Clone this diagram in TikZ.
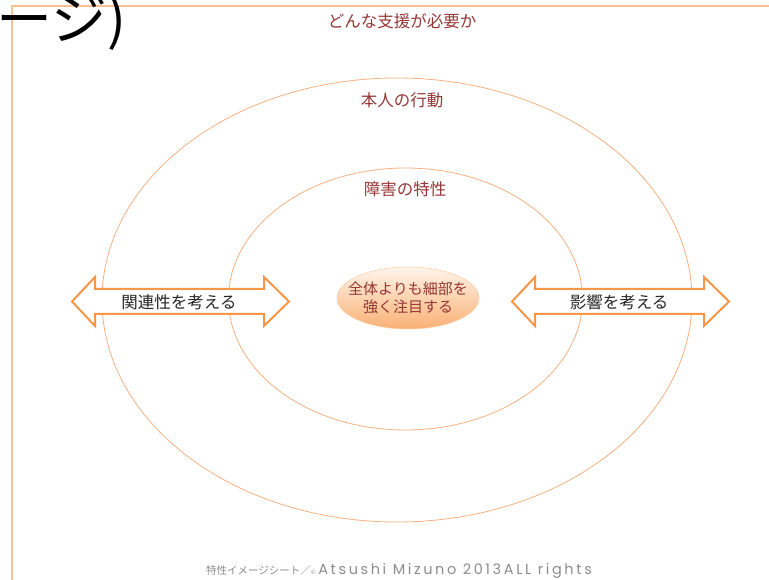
\documentclass[tikz,border=0pt]{standalone}
\usepackage{fontspec}
\setmainfont{Noto Sans CJK JP}
\newfontfamily\latinwide[LetterSpace=18]{Poppins}
\usetikzlibrary{shadings,shapes.geometric}
\definecolor{frameor}{HTML}{FAC090}
\definecolor{ringor}{HTML}{F4B183}
\definecolor{arrowor}{HTML}{F79646}
\definecolor{redbrown}{HTML}{953735}
\definecolor{grayt}{HTML}{8C8C8C}
\tikzset{
  ring/.style={draw=ringor, line width=0.8pt},
  lbl/.style={text=redbrown, font=\fontsize{16.5}{18}\selectfont},
  arr/.style={draw=arrowor, fill=white, line width=2pt, line join=miter},
  arrtext/.style={text=black!85, font=\fontsize{16.5}{18}\selectfont},
}
\begin{document}
\begin{tikzpicture}[x=1pt,y=-1pt]
\useasboundingbox (0,0) rectangle (769,580);
\begin{scope}
\clip (0,0) rectangle (769,580);
% frame
\draw[frameor, line width=2pt] (769,6) -- (12,6) -- (12,580);
% big cut-off text
\node[anchor=east, inner sep=0pt, font=\fontsize{56}{56}\selectfont] (big) at (127,22) {ージ)};
% rings
\draw[ring] (397,300) ellipse (295 and 222);
\draw[ring] (405.5,299) ellipse (177 and 131);
% center ellipse
\node[ellipse, minimum width=142, minimum height=62, inner sep=0pt,
  top color=orange!8, bottom color=arrowor!75, draw=arrowor!50, line width=0.5pt] (core) at (408,298) {};
\node[text=redbrown, font=\fontsize{15}{18}\selectfont, align=center] (coretext) at (core.center)
  {全体よりも細部を\\強く注目する};
% labels
\node[lbl] (q) at (402,21) {どんな支援が必要か};
\node[lbl] (act) at (402,100) {本人の行動};
\node[lbl] (trait) at (405,189) {障害の特性};
% left double arrow
\draw[arr] (72,301.5) -- (95,277) -- (95,289) -- (264,289) -- (264,277) -- (289,301.5)
  -- (264,326) -- (264,314) -- (95,314) -- (95,326) -- cycle;
\node[arrtext] (rel) at (179,302) {関連性を考える};
% right double arrow
\draw[arr] (512,301.5) -- (535,277) -- (535,289) -- (704,289) -- (704,277) -- (729,301.5)
  -- (704,326) -- (704,314) -- (535,314) -- (535,326) -- cycle;
\node[arrtext] (inf) at (619,302) {影響を考える};
% footer
\node[text=grayt, font=\fontsize{10.5}{12}\selectfont, inner sep=0pt] (foot) at (399,571)
  {特性イメージシート／{\fontsize{6}{6}\selectfont ©}{\latinwide\fontsize{14.5}{14}\selectfont\,Atsushi Mizuno 2013ALL rights}};
\end{scope}
\end{tikzpicture}
\end{document}
